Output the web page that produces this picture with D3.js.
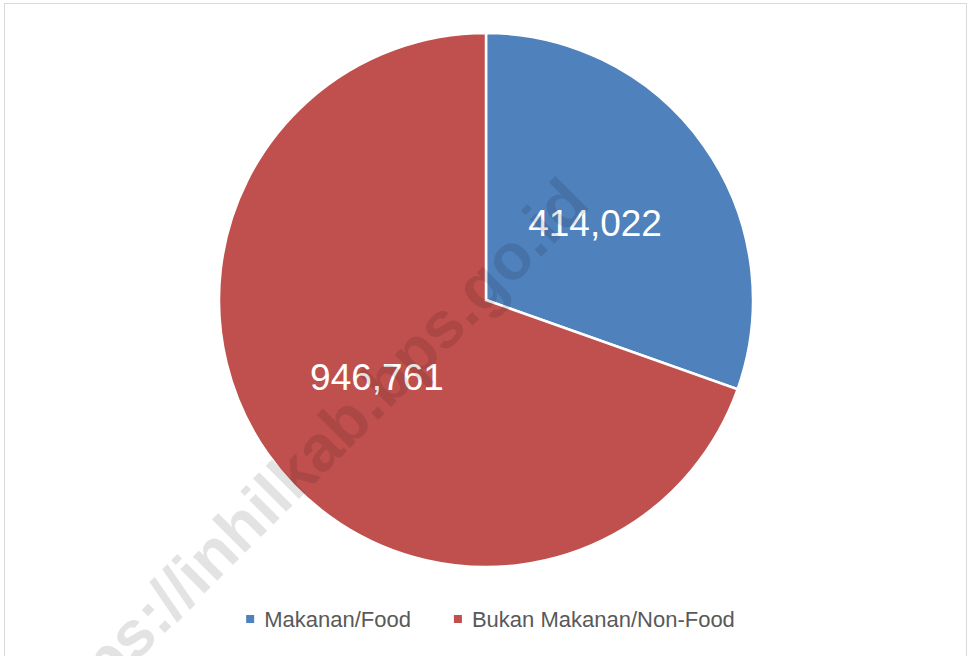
<!DOCTYPE html>
<html>
<head>
<meta charset="utf-8">
<script src="https://cdn.jsdelivr.net/npm/d3@7"></script>
<style>
  body { margin: 0; background: #fff; }
  svg { display: block; }
</style>
</head>
<body>
<svg id="chart" width="971" height="656"></svg>
<script>
(function() {

// chart data
const categories = ["Makanan/Food", "Bukan Makanan/Non-Food"];
const values = [414022, 946761];
const colors = ["#4f81bd", "#c0504d"];
const watermark = "https://inhilkab.bps.go.id";

const svg = d3.select("#chart")
    , cx = 486
    , cy = 300
    , radius = 267;

// outer frame
svg.append("rect")
    .attr("x", 4.5).attr("y", 3.5)
    .attr("width", 962).attr("height", 700)
    .attr("fill", "#fff")
    .attr("stroke", "#d9d9d9")
    .attr("stroke-width", 1);

const slices = d3.pie().sort(null)(values);

const arc = d3.arc().innerRadius(0).outerRadius(radius)
    , labelArc = d3.arc().innerRadius(radius * 0.5).outerRadius(radius * 0.5);

const pieG = svg.append("g")
    .attr("transform", "translate(" + cx + "," + cy + ")");

pieG.selectAll("path")
    .data(slices)
    .enter().append("path")
    .attr("d", arc)
    .attr("fill", (d, i) => colors[i])
    .attr("stroke", "#fff")
    .attr("stroke-width", 2.5)
    .attr("stroke-linejoin", "miter");

// watermark across the chart
svg.append("text")
    .attr("transform", "translate(320,478) rotate(-45)")
    .attr("text-anchor", "middle")
    .attr("font-family", "'Liberation Sans', Arial, sans-serif")
    .attr("font-weight", "bold")
    .attr("font-size", 65)
    .attr("fill", "rgba(0,0,0,0.11)")
    .text(watermark);

// data labels
const fmt = d3.format(",");
pieG.selectAll("text.lbl")
    .data(slices)
    .enter().append("text")
    .attr("class", "lbl")
    .attr("transform", (d) => "translate(" + labelArc.centroid(d) + ")")
    .attr("text-anchor", "middle")
    .attr("dy", "0.36em")
    .attr("font-family", "'Liberation Sans', Arial, sans-serif")
    .attr("font-size", 37)
    .attr("fill", "#fff")
    .text((d) => fmt(d.data));

// legend
const legend = svg.append("g").attr("class", "legend");
const items = legend.selectAll("g")
    .data(categories)
    .enter().append("g");

items.append("rect")
    .attr("width", 8).attr("height", 8)
    .attr("y", -12)
    .attr("fill", (d, i) => colors[i]);

items.append("text")
    .attr("x", 18)
    .attr("font-family", "'Liberation Sans', Arial, sans-serif")
    .attr("font-size", 22)
    .attr("fill", "#595959")
    .text((d) => d);

let offset = 0;
items.each(function() {
    const g = d3.select(this)
        , w = 18 + g.select("text").node().getComputedTextLength();
    g.attr("transform", "translate(" + offset + ",0)");
    offset += w + 43;
});
const total = offset - 43;
legend.attr("transform", "translate(" + (490.5 - total / 2) + ",627)");

})();
</script>
</body>
</html>
